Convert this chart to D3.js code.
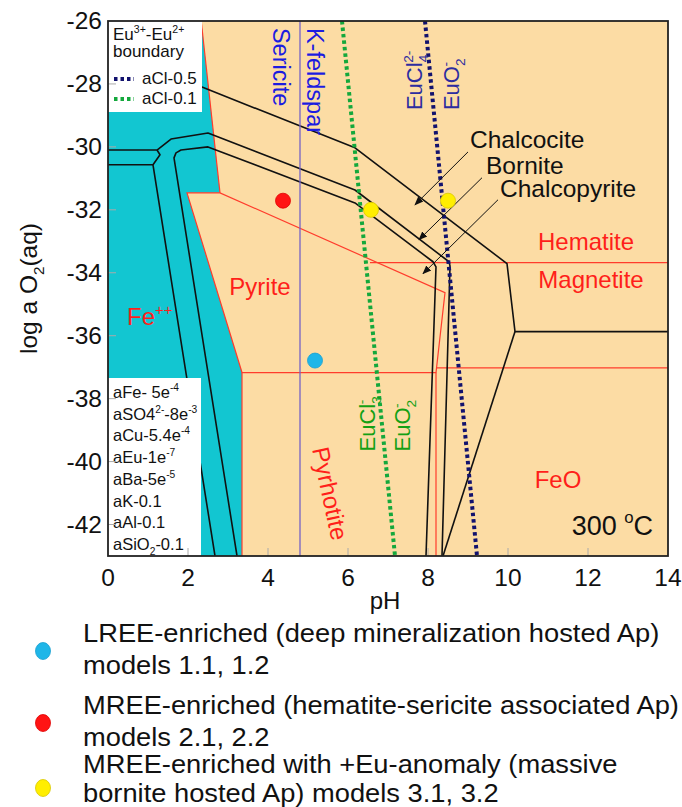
<!DOCTYPE html>
<html>
<head>
<meta charset="utf-8">
<script src="https://cdn.jsdelivr.net/npm/d3@7"></script>
<style>
  body { margin: 0; background: #fff; }
  svg { display: block; font-family: "Liberation Sans", Arial, sans-serif; }
</style>
</head>
<body>
<svg id="chart"></svg>
<script>
// axis ticks
let xTicks = [0, 2, 4, 6, 8, 10, 12, 14];
let yTicks = [-26, -28, -30, -32, -34, -36, -38, -40, -42];

// Fe++ field (cyan) and pyrite field, as [pH, log aO2]
let feField = [[0, -26], [2.33, -26], [2.8, -31.46], [1.975, -31.46], [3.35, -37.17], [3.35, -43], [0, -43]];
let pyriteField = [[1.975, -31.46], [2.8, -31.46], [8.425, -34.63], [8.2, -37.17], [3.35, -37.17]];

// red (Fe mineral) boundaries
let feBoundary = [[2.33, -26], [2.8, -31.46]];
let pyrrhotiteLeft = [[3.35, -37.17], [3.35, -43]];
let hemMag = [[6.55, -33.68], [14, -33.68]];
let magFeO = [[8.2, -37.02], [14, -37.02]];
let pyrrFeO = [[8.2, -37.17], [8.2, -43]];

// black (Cu mineral) boundaries
let chalcociteLine = [[2.0, -27.92], [2.35, -28.1], [6.175, -30.03], [9.975, -33.71], [10.175, -35.87], [14, -35.87]];
let chalcociteFoot = [[10.175, -35.87], [8.375, -43]];
let borniteLine = [[0, -30.1], [1.225, -30.1], [1.575, -29.75], [2.5, -29.56], [6.175, -31.37], [8.525, -33.65], [8.55, -33.78], [8.35, -43]];
let borniteNotch = [[1.225, -30.1], [1.3, -30.25], [1.125, -30.57], [2.675, -43]];
let borniteLow = [[0, -30.57], [1.125, -30.57]];
let chalcopyriteLine = [[3.225, -43], [1.65, -30.35], [1.7, -30.19], [1.825, -30.1], [2.5, -30.0], [6.175, -31.78], [8.125, -33.65], [8.2, -33.81], [7.95, -43]];

// sericite / K-feldspar
let sericitePH = 4.8;

// Eu3+-Eu2+ boundaries
let euCl05 = [[7.925, -26], [9.225, -43]];
let euCl01 = [[5.85, -26], [7.175, -43]];

// apatite models
let pointPH = [5.175, 4.375, 6.575, 8.5];
let pointO2 = [-36.79, -31.71, -32.0, -31.71];
let pointGroup = [0, 1, 2, 2];
let groupColors = ['#1fb6e8', '#ff1414', '#ffee00'];
let groupStroke = ['#18a0d0', '#e00000', '#d8c800'];
let groupText = [
  ['LREE-enriched (deep mineralization hosted Ap)', 'models 1.1, 1.2'],
  ['MREE-enriched (hematite-sericite associated Ap)', 'models 2.1, 2.2'],
  ['MREE-enriched with +Eu-anomaly (massive', 'bornite hosted Ap) models 3.1, 3.2']
];

// arrows: [from, to]
let arrows = [
  [[9.0, -30.16], [7.675, -31.84]],
  [[9.35, -30.98], [7.775, -32.95]],
  [[9.75, -31.68], [7.875, -34.03]]
];

// field labels
let redLabels = [
  { t: [['Hematite']], at: [11.95, -33.27], a: 'middle' },
  { t: [['Magnetite']], at: [12.075, -34.48], a: 'middle' },
  { t: [['FeO']], at: [11.25, -40.83], a: 'middle' },
  { t: [['Pyrite']], at: [3.8, -34.7], a: 'middle' },
  { t: [['Fe'], ['++', 'sup']], at: [0.475, -35.65], a: 'start' }
];
let cuLabels = [
  { t: 'Chalcocite', at: [9.05, -30.03] },
  { t: 'Bornite', at: [9.45, -30.86] },
  { t: 'Chalcopyrite', at: [9.8, -31.59] }
];
let activities = [
  [['aFe- 5e'], ['-4', 'sup']],
  [['aSO4'], ['2-', 'sup'], ['-8e'], ['-3', 'sup']],
  [['aCu-5.4e'], ['-4', 'sup']],
  [['aEu-1e'], ['-7', 'sup']],
  [['aBa-5e'], ['-5', 'sup']],
  [['aK-0.1']],
  [['aAl-0.1']],
  [['aSiO'], ['2', 'sub'], ['-0.1']]
];

let width = 682;
let height = 807;
let svg = d3.select('#chart').attr('width', width).attr('height', height);

let x = d3.scaleLinear().domain([0, 14]).range([108, 668]);
let y = d3.scaleLinear().domain([-26, -43]).range([21, 556]);
let line = d3.line().x(d => x(d[0])).y(d => y(d[1]));

// write text with sub/superscripts
let addRich = (sel, parts, size) => {
  let shift = 0;
  parts.forEach(p => {
    let target = p[1] === 'sup' ? -0.42 * size : p[1] === 'sub' ? 0.28 * size : 0;
    let ts = sel.append('tspan').text(p[0])
      .attr('dy', target - shift)
      .attr('font-size', p[1] ? size * 0.62 : size);
    if (p[2]) ts.attr('dx', p[2]);
    shift = target;
  });
};

svg.append('defs').append('clipPath').attr('id', 'plotClip')
  .append('rect')
  .attr('x', x(0)).attr('y', y(-26))
  .attr('width', x(14) - x(0)).attr('height', y(-43) - y(-26));

svg.select('defs').append('marker')
  .attr('id', 'head')
  .attr('viewBox', '0 0 10 10')
  .attr('refX', 9).attr('refY', 5)
  .attr('markerWidth', 9).attr('markerHeight', 9)
  .attr('orient', 'auto')
  .append('path').attr('d', 'M0,1 L10,5 L0,9 Z').attr('fill', '#111');

let plot = svg.append('g').attr('clip-path', 'url(#plotClip)');

plot.append('rect')
  .attr('x', x(0)).attr('y', y(-26))
  .attr('width', x(14) - x(0)).attr('height', y(-43) - y(-26))
  .attr('fill', '#fcdca4');

plot.append('path').attr('d', line(feField) + 'Z').attr('fill', '#12c6d1');

// red boundaries
let red = '#ff3c2c';
plot.append('path').attr('d', line(pyriteField) + 'Z')
  .attr('fill', 'none').attr('stroke', red).attr('stroke-width', 1.2);
[feBoundary, pyrrhotiteLeft, hemMag, magFeO, pyrrFeO].forEach(l => {
  plot.append('path').attr('d', line(l))
    .attr('fill', 'none').attr('stroke', red).attr('stroke-width', 1.2);
});

// black boundaries
[chalcociteLine, chalcociteFoot, borniteLine, borniteNotch, borniteLow, chalcopyriteLine].forEach(l => {
  plot.append('path').attr('d', line(l))
    .attr('fill', 'none').attr('stroke', '#111').attr('stroke-width', 1.6)
    .attr('stroke-linejoin', 'round');
});

// sericite / K-feldspar line
plot.append('line')
  .attr('x1', x(sericitePH)).attr('x2', x(sericitePH))
  .attr('y1', y(-26)).attr('y2', y(-43))
  .attr('stroke', '#7462c6').attr('stroke-width', 1.3);

// Eu boundaries
plot.append('path').attr('d', line(euCl01))
  .attr('stroke', '#14a83c').attr('stroke-width', 4).attr('stroke-dasharray', '3.5,3').attr('fill', 'none');
plot.append('path').attr('d', line(euCl05))
  .attr('stroke', '#12126e').attr('stroke-width', 4).attr('stroke-dasharray', '3.5,3').attr('fill', 'none');

// arrows
arrows.forEach(a => {
  plot.append('line')
    .attr('x1', x(a[0][0])).attr('y1', y(a[0][1]))
    .attr('x2', x(a[1][0])).attr('y2', y(a[1][1]))
    .attr('stroke', '#111').attr('stroke-width', 1)
    .attr('marker-end', 'url(#head)');
});

// apatite points
plot.selectAll('circle.pt')
  .data(pointPH)
  .enter()
  .append('circle')
  .attr('class', 'pt')
  .attr('cx', d => x(d))
  .attr('cy', (d, i) => y(pointO2[i]))
  .attr('r', 7.5)
  .attr('fill', (d, i) => groupColors[pointGroup[i]])
  .attr('stroke', (d, i) => groupStroke[pointGroup[i]])
  .attr('stroke-width', 0.8);

// legend box top-left
plot.append('rect').attr('x', x(0)).attr('y', y(-26)).attr('width', 94).attr('height', 91).attr('fill', '#fff');
let lg = svg.append('g').attr('font-size', 17).attr('fill', '#111');
addRich(lg.append('text').attr('x', 113).attr('y', 40), [['Eu'], ['3+', 'sup'], ['-Eu'], ['2+', 'sup']], 17);
lg.append('text').attr('x', 113).attr('y', 57).text('boundary');
[['#12126e', 'aCl-0.5', 84], ['#14a83c', 'aCl-0.1', 104]].forEach(r => {
  lg.append('line').attr('x1', 114).attr('x2', 134).attr('y1', r[2] - 5).attr('y2', r[2] - 5)
    .attr('stroke', r[0]).attr('stroke-width', 4).attr('stroke-dasharray', '3.5,3');
  lg.append('text').attr('x', 142).attr('y', r[2]).text(r[1]);
});

// activity box bottom-left
plot.append('rect').attr('x', x(0)).attr('y', 378).attr('width', 93).attr('height', 180).attr('fill', '#fff');
activities.forEach((a, i) => {
  addRich(lg.append('text').attr('x', 113).attr('y', 398 + i * 21.7).attr('font-size', 16.5), a, 16.5);
});

// field labels
redLabels.forEach(l => {
  let t = svg.append('text').attr('x', x(l.at[0])).attr('y', y(l.at[1]))
    .attr('text-anchor', l.a).attr('fill', '#ff1f1a');
  addRich(t, l.t, 24);
});
svg.append('text')
  .attr('transform', `translate(${x(5.1)},${y(-39.6)}) rotate(78)`)
  .attr('fill', '#ff1f1a').attr('font-size', 24).text('Pyrhotite');

cuLabels.forEach(l => {
  svg.append('text').attr('x', x(l.at[0])).attr('y', y(l.at[1]))
    .attr('font-size', 24.5).attr('fill', '#111').text(l.t);
});

// sericite / K-feldspar labels
[['Sericite', 4.125], ['K-feldspar', 4.975]].forEach(s => {
  svg.append('text')
    .attr('transform', `translate(${x(s[1])},${y(-26.22)}) rotate(90)`)
    .attr('font-size', 23.5).attr('fill', '#1c1ce0').text(s[0]);
});

// Eu species labels
let euLabels = [
  { parts: [['EuCl'], ['4', 'sub'], ['2-', 'sup', -8]], at: [7.85, -28.83], c: '#2c2ca0' },
  { parts: [['EuO'], ['2', 'sub'], ['-', 'sup', -8]], at: [8.775, -28.83], c: '#2c2ca0' },
  { parts: [['EuCl'], ['3', 'sub'], ['-', 'sup', -8]], at: [6.675, -39.68], c: '#14a014' },
  { parts: [['EuO'], ['2', 'sub'], ['-', 'sup', -8]], at: [7.55, -39.68], c: '#14a014' }
];
euLabels.forEach(l => {
  let t = svg.append('text')
    .attr('transform', `translate(${x(l.at[0])},${y(l.at[1])}) rotate(-90)`)
    .attr('fill', l.c);
  addRich(t, l.parts, 22);
});

// temperature
let tt = svg.append('text').attr('x', x(13.625)).attr('y', y(-42.32))
  .attr('text-anchor', 'end').attr('fill', '#111');
addRich(tt, [['300 '], ['o', 'sup'], ['C']], 27);

// ticks inside the frame
svg.append('g').selectAll('line')
  .data(xTicks.slice(1, -1))
  .enter().append('line')
  .attr('x1', d => x(d)).attr('x2', d => x(d))
  .attr('y1', y(-43)).attr('y2', y(-43) - 8)
  .attr('stroke', '#aaa').attr('stroke-width', 1);
svg.append('g').selectAll('line')
  .data(yTicks.slice(1))
  .enter().append('line')
  .attr('x1', x(0)).attr('x2', x(0) + 8)
  .attr('y1', d => y(d)).attr('y2', d => y(d))
  .attr('stroke', '#aaa').attr('stroke-width', 1);

// frame
svg.append('rect')
  .attr('x', x(0)).attr('y', y(-26))
  .attr('width', x(14) - x(0)).attr('height', y(-43) - y(-26))
  .attr('fill', 'none').attr('stroke', '#222').attr('stroke-width', 1.8);

// tick labels
svg.append('g').selectAll('text')
  .data(yTicks)
  .enter().append('text')
  .attr('x', x(0) - 6).attr('y', d => y(d) + 8)
  .attr('text-anchor', 'end').attr('font-size', 24.5).attr('fill', '#111')
  .text(d => d);
svg.append('g').selectAll('text')
  .data(xTicks)
  .enter().append('text')
  .attr('x', d => x(d)).attr('y', 586)
  .attr('text-anchor', 'middle').attr('font-size', 24.5).attr('fill', '#111')
  .text(d => d);

// axis titles
svg.append('text').attr('x', 385).attr('y', 609)
  .attr('text-anchor', 'middle').attr('font-size', 24).attr('fill', '#111').text('pH');
let yt = svg.append('text')
  .attr('transform', `translate(37,${(y(-26) + y(-43)) / 2}) rotate(-90)`)
  .attr('text-anchor', 'middle').attr('fill', '#111');
addRich(yt, [['log a O'], ['2', 'sub'], ['(aq)']], 24.5);

// bottom legend
let legendTop = [642, 714, 773];
let legendDot = [651, 723, 788];
groupText.forEach((g, i) => {
  svg.append('ellipse').attr('cx', 43).attr('cy', legendDot[i])
    .attr('rx', 7.5).attr('ry', 8.5)
    .attr('fill', groupColors[i]).attr('stroke', groupStroke[i]).attr('stroke-width', 0.8);
  let row = svg.append('g').attr('transform', 'translate(83,0) scale(1.05,1)');
  g.forEach((s, j) => {
    row.append('text').attr('x', 0).attr('y', legendTop[i] + j * (i === 2 ? 29 : 32))
      .attr('font-size', 26).attr('fill', '#111').text(s);
  });
});
</script>
</body>
</html>
